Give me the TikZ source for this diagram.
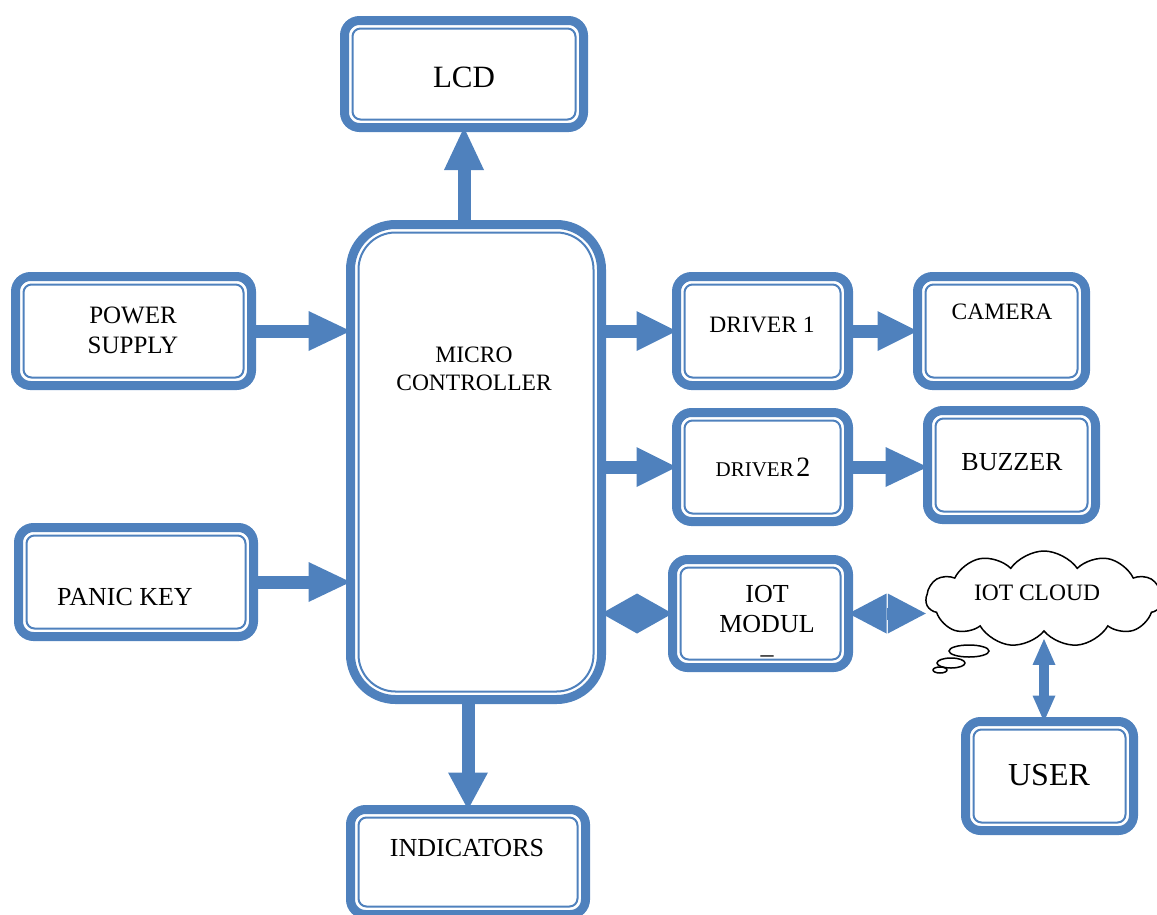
\documentclass[tikz,border=0pt]{standalone}
\usepackage{fontspec}
\setmainfont{Liberation Serif}
\usetikzlibrary{arrows.meta,shapes.symbols,calc}
\definecolor{boxblue}{RGB}{79,129,189}

\begin{document}
\begin{tikzpicture}[x=1pt,y=-1pt,
    blk/.style={draw=boxblue,line width=9pt,rounded corners=15pt,outer sep=0pt,inner sep=0pt},
    inline/.style={draw=boxblue,line width=2pt,rounded corners=8pt},
    lbl/.style={align=center,inner sep=0pt},
    flow/.style={draw=boxblue,line width=13pt,-{Triangle[width=40pt,length=#1,line width=0pt]}},
    flow/.default=42pt,
    dflow/.style={draw=boxblue,line width=12pt,arrows={Triangle[width=40pt,length=#1,line width=0pt]-Triangle[width=40pt,length=#1,line width=0pt]}},
    uflow/.style={draw=boxblue,line width=10pt,arrows={Triangle[width=23pt,length=26pt,line width=0pt]-Triangle[width=23pt,length=26pt,line width=0pt]}}]
  \useasboundingbox (0,0) rectangle (1157,914);

  \node[blk,minimum width=239pt,minimum height=107pt] (lcd) at (464,74) {};
  \node[blk,rounded corners=45pt,minimum width=251pt,minimum height=475pt] (mc) at (476,462) {};
  \node[blk,minimum width=236pt,minimum height=109pt] (pow) at (133.5,331) {};
  \node[blk,minimum width=235pt,minimum height=109pt] (pan) at (136,582) {};
  \node[blk,minimum width=172pt,minimum height=109pt] (d1) at (762.5,331) {};
  \node[blk,minimum width=168pt,minimum height=109pt] (cam) at (1001.5,331) {};
  \node[blk,minimum width=172pt,minimum height=109pt] (d2) at (762.5,467) {};
  \node[blk,minimum width=168pt,minimum height=109pt] (buz) at (1011.5,465) {};
  \node[blk,minimum width=176pt,minimum height=108pt] (iot) at (760.5,613.5) {};
  \node[blk,minimum width=168pt,minimum height=109pt] (usr) at (1049.5,776) {};
  \node[blk,minimum width=235pt,minimum height=105pt] (ind) at (468,862) {};
  \node[cloud,cloud puffs=11,cloud puff arc=110,aspect=2.5,draw=black,line width=1.5pt,minimum width=236pt,minimum height=96pt,inner sep=0pt,outer sep=0pt] (cloud) at (1044,599) {};

  \foreach \n in {lcd,pow,pan,d1,cam,d2,buz,iot,usr,ind}
    \draw[inline] ([shift={(8pt,8pt)}]\n.south west) rectangle ([shift={(-8pt,-8pt)}]\n.north east);
  \draw[inline,rounded corners=37pt] ([shift={(8pt,8pt)}]mc.south west) rectangle ([shift={(-8pt,-8pt)}]mc.north east);

  \draw[black,line width=1.5pt] (969,651) ellipse [x radius=20, y radius=6];
  \draw[black,line width=1.5pt] (951,663) ellipse [x radius=14, y radius=5];
  \draw[black,line width=1.5pt] (940,670) ellipse [x radius=7, y radius=3];

  \node[lbl,font=\fontsize{31}{36}\selectfont] (lcdtxt) at (464,77) {LCD};
  \node[lbl,font=\fontsize{25}{30}\selectfont] (powtxt) at (133,330) {POWER\\SUPPLY};
  \node[lbl,font=\fontsize{23.5}{28}\selectfont] (mctxt) at (474,369) {MICRO\\CONTROLLER};
  \node[lbl,font=\fontsize{26}{30}\selectfont] (pantxt) at (125,597) {PANIC KEY};
  \node[lbl,font=\fontsize{23.5}{28}\selectfont] (d1txt) at (762,325) {DRIVER 1};
  \node[lbl,font=\fontsize{23.5}{28}\selectfont] (camtxt) at (1002,312) {CAMERA};
  \node[lbl] (d2txt) at (763,467) {{\fontsize{21}{25}\selectfont DRIVER} {\fontsize{28}{30}\selectfont 2}};
  \node[lbl,font=\fontsize{26}{30}\selectfont] (buztxt) at (1012,462) {BUZZER};
  \node[lbl,font=\fontsize{26}{30}\selectfont] (iottxt) at (767,624) {IOT\\MODUL\\--};
  \node[lbl,font=\fontsize{23.5}{28}\selectfont] (cloudtxt) at (1037,593) {IOT CLOUD};
  \node[lbl,font=\fontsize{32}{36}\selectfont] (usrtxt) at (1049,775) {USER};
  \node[lbl,font=\fontsize{26}{30}\selectfont] (indtxt) at (467,848) {INDICATORS};

  \draw[flow=42.5pt] (lcd.south |- mc.north) -- (lcd.south);
  \draw[flow] (pow.east) -- (pow.east -| mc.west);
  \draw[flow] (pan.east) -- (pan.east -| mc.west);
  \draw[flow=40pt] (mc.east |- d1.west) -- (d1.west);
  \draw[flow=40pt] (d1.east) -- (cam.west);
  \draw[flow=40pt] (mc.east |- d2.west) -- (d2.west);
  \draw[flow] (d2.east) -- (d2.east -| buz.west);
  \draw[dflow=35.5pt] (mc.east |- iot.west) -- (iot.west);
  \draw[dflow=38pt] (iot.east) -- (iot.east -| cloud.west);
  \draw[uflow] ($(cloud.south)+(0,8)$) -- (cloud.south |- usr.north);
  \draw[flow=37pt] (ind.north |- mc.south) -- (ind.north);
\end{tikzpicture}
\end{document}
